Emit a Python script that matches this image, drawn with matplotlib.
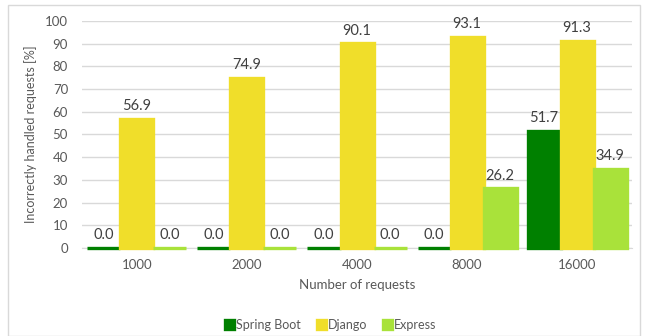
import numpy as np
import matplotlib
matplotlib.use("Agg")
import matplotlib.pyplot as plt
from matplotlib.patches import Rectangle

plt.rcParams["font.family"] = ["Lato", "DejaVu Sans"]

# Data
categories = ["1000", "2000", "4000", "8000", "16000"]
spring_boot = [0.0, 0.0, 0.0, 0.0, 51.7]
django = [56.9, 74.9, 90.1, 93.1, 91.3]
express = [0.0, 0.0, 0.0, 26.2, 34.9]

series = [
    ("Spring Boot", spring_boot, "#008000"),
    ("Django", django, "#F0DE2A"),
    ("Express", express, "#A9E23A"),
]

fig = plt.figure(figsize=(6.45, 3.36), dpi=100)
ax = fig.add_axes([0.127, 0.262, 0.853, 0.676])

# chart frame
fig.patches.append(Rectangle((0.012, 0.0), 0.98, 0.985, transform=fig.transFigure,
                             fill=False, edgecolor="#d9d9d9", linewidth=1))

x = np.arange(len(categories))
width = 0.3

for i, (name, vals, color) in enumerate(series):
    pos = x + (i - 1) * width
    bars = ax.bar(pos, vals, width, color=color, edgecolor=color, linewidth=2.4,
                  label=name, zorder=3)
    for b in bars:
        b.set_clip_on(False)
    for p, v in zip(pos, vals):
        ax.text(p, v + 2.5, f"{v:.1f}", ha="center", va="bottom",
                fontsize=10.5, color="#404040")

ax.set_ylim(0, 100)
ax.set_xlim(-0.5, len(categories) - 0.5)
ax.set_yticks(range(0, 101, 10))
ax.set_xticks(x)
ax.set_xticklabels(categories)

ax.yaxis.grid(True, color="#d9d9d9", linewidth=1, zorder=0)
ax.set_axisbelow(True)
for s in ["top", "right", "left"]:
    ax.spines[s].set_visible(False)
ax.spines["bottom"].set_color("#d9d9d9")
ax.tick_params(axis="both", length=0, labelsize=9.5, colors="#595959")
ax.tick_params(axis="x", pad=8)
ax.tick_params(axis="y", pad=10)

ax.set_xlabel("Number of requests", fontsize=9.5, color="#595959", labelpad=6)
ax.set_ylabel("Incorrectly handled requests [%]", fontsize=9, color="#595959", labelpad=6)

fig.legend(*ax.get_legend_handles_labels(), loc="center", bbox_to_anchor=(0.513, 0.032),
           ncol=3, frameon=False, fontsize=9, labelcolor="#595959",
           handlelength=0.7, handleheight=0.7, handletextpad=0.15, columnspacing=1.3)

plt.savefig("out.png", dpi=100)
